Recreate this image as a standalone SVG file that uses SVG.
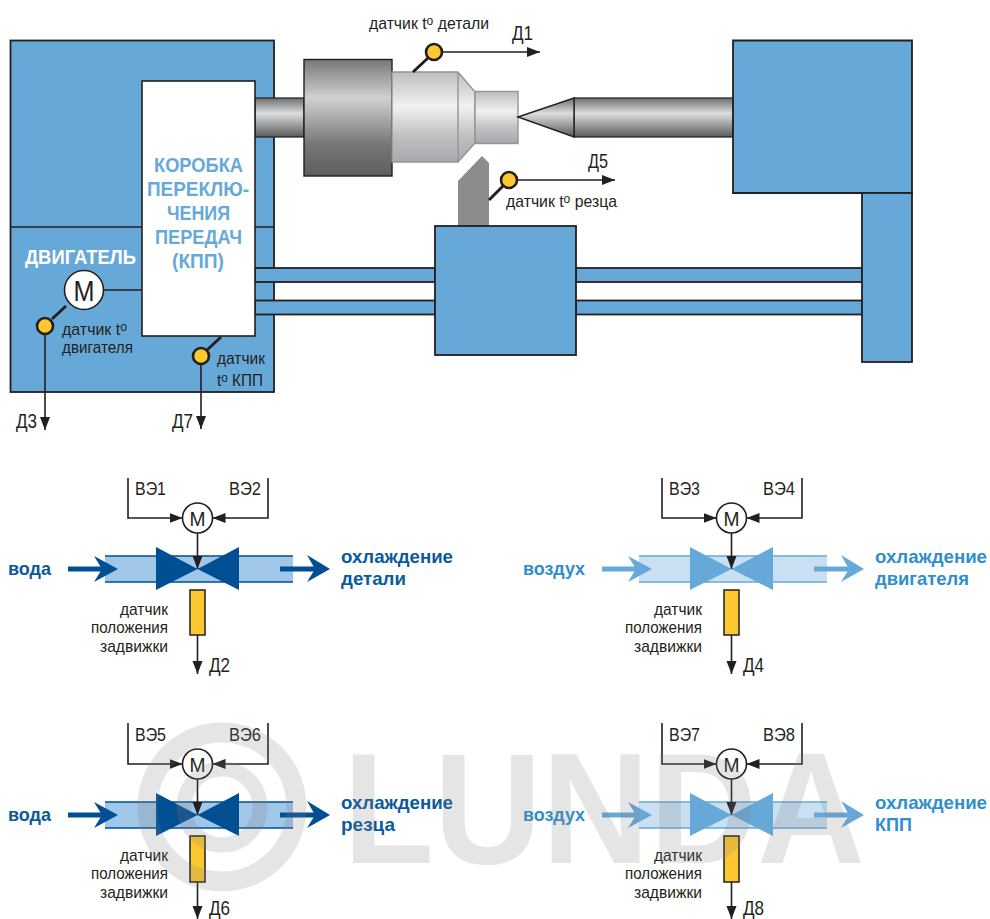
<svg xmlns="http://www.w3.org/2000/svg" width="990" height="919" viewBox="0 0 990 919">
<style>
text{font-family:"Liberation Sans",Arial,sans-serif;fill:#231f20}
.l{font-size:17px}
.s{font-size:17px}
.v{font-size:18.500px}
.d{font-size:21px}
.mm{font-size:21px}
.b{font-weight:bold;font-size:19px}
.big{font-weight:bold;font-size:21px}
.blue{fill:#66a9d9}
.body{fill:#66a9d9;stroke:#231f20;stroke-width:1.8}
.ln{fill:none;stroke:#231f20;stroke-width:1.6}
.th{fill:none;stroke:#231f20;stroke-width:3}
.sens{fill:#fdc82f;stroke:#231f20;stroke-width:2.6}
.m{fill:#fff;stroke:#231f20;stroke-width:1.6}
.pos{fill:#fdc82f;stroke:#231f20;stroke-width:1.5}
.dk{fill:#004f92}.dkp{fill:#a0c6e8}.dks{stroke:#004f92;stroke-width:1.6}
.dkt{fill:#0a5a9c}
.lt{fill:#66a9d9}.ltp{fill:#c9e0f3}.lts{stroke:#66a9d9;stroke-width:1.6}
.ltt{fill:#2f8fcb}
</style>
<defs>
<marker id="ah" markerUnits="userSpaceOnUse" markerWidth="14" markerHeight="11" refX="13" refY="5.500" orient="auto"><path d="M0,0.500L13,5.500L0,10.500z" fill="#231f20"/></marker>
<linearGradient id="gChuck" x1="0" y1="0" x2="0" y2="1"><stop offset="0" stop-color="#767779"/><stop offset=".33" stop-color="#d0d1d2"/><stop offset=".72" stop-color="#77787a"/><stop offset="1" stop-color="#5c5d5f"/></linearGradient>
<linearGradient id="gPart" x1="0" y1="0" x2="0" y2="1"><stop offset="0" stop-color="#bcbdbf"/><stop offset=".38" stop-color="#f1f1f2"/><stop offset=".7" stop-color="#c0c1c3"/><stop offset="1" stop-color="#a7a9ac"/></linearGradient>
<linearGradient id="gShaft" x1="0" y1="0" x2="0" y2="1"><stop offset="0" stop-color="#6d6e70"/><stop offset=".4" stop-color="#dcddde"/><stop offset="1" stop-color="#58595b"/></linearGradient>
</defs>

<g id="base">
<rect class="body" x="10.500" y="40.500" width="263.500" height="351.500"/>
<line class="ln" x1="10.500" y1="227" x2="274" y2="227"/>
</g>
<g id="shaft"><rect x="255" y="98" width="49" height="39" fill="url(#gShaft)" stroke="#231f20" stroke-width="1.200"/></g>
<g id="rails">
<rect class="body" x="255" y="268" width="180" height="14"/>
<rect class="body" x="255" y="300.500" width="180" height="14"/>
<rect class="body" x="576" y="268" width="286" height="14"/>
<rect class="body" x="576" y="300.500" width="286" height="14"/>
</g>
<g id="gearbox">
<rect x="142" y="81" width="113" height="255" fill="#fff" stroke="#231f20" stroke-width="1.600"/>
<text class="big blue" x="154" y="172" textLength="89" lengthAdjust="spacingAndGlyphs">КОРОБКА</text>
<text class="big blue" x="147" y="196" textLength="102" lengthAdjust="spacingAndGlyphs">ПЕРЕКЛЮ-</text>
<text class="big blue" x="167" y="220" textLength="63" lengthAdjust="spacingAndGlyphs">ЧЕНИЯ</text>
<text class="big blue" x="155" y="244" textLength="87" lengthAdjust="spacingAndGlyphs">ПЕРЕДАЧ</text>
<text class="big blue" x="172" y="268" textLength="52" lengthAdjust="spacingAndGlyphs">(КПП)</text>
</g>
<text id="engine-label" class="big" style="fill:#fff" x="25" y="264" textLength="111" lengthAdjust="spacingAndGlyphs">ДВИГАТЕЛЬ</text>
<g id="chuck"><rect x="304" y="59.500" width="88" height="116.500" fill="url(#gChuck)" stroke="#231f20" stroke-width="1.400"/></g>
<g id="workpiece" stroke="#929497" stroke-width="1.400">
<path d="M392,72H458L475,92V143L458,162H392z" fill="url(#gPart)"/>
<line x1="458" y1="72" x2="458" y2="162"/>
<rect x="475" y="91.500" width="43" height="52" fill="url(#gPart)"/>
</g>
<g id="tailstock">
<rect x="574" y="98" width="159" height="39" fill="url(#gShaft)" stroke="#231f20" stroke-width="1.200"/>
<path d="M518,117L574,98V137z" fill="url(#gShaft)" stroke="#231f20" stroke-width="1.400"/>
<path class="body" d="M733,40.500H912V193H733z"/>
<rect class="body" x="862" y="193" width="50" height="169"/>
</g>
<g id="tool"><path d="M458,226V181L482,156L489,163V226z" fill="#8a8c8e"/></g>
<g id="carriage"><rect class="body" x="435" y="226" width="141" height="129"/></g>

<g id="valve-1">
<rect class="dkp" x="105" y="556" width="188" height="26"/>
<path class="dks" d="M105,556H293M105,582H293"/>
<path class="dk" d="M156,547L197.500,569L156,590zM239,547L197.500,569L239,590z"/>
<path class="dk" d="M68,566.500H102V571.500H68zM94,556L118,569L94,582L102,569z"/><path class="dk" d="M280,566.500H316V571.500H280zM307,555L330,569L307,582L315,569z"/>
<circle class="m" cx="197.500" cy="518" r="15"/><text class="mm" x="189.500" y="525.500" textLength="16" lengthAdjust="spacingAndGlyphs">М</text>
<rect class="pos" x="190" y="590" width="15" height="45"/>
<text class="v" x="135" y="495" textLength="31" lengthAdjust="spacingAndGlyphs">ВЭ1</text><text class="v" x="229" y="495" textLength="32" lengthAdjust="spacingAndGlyphs">ВЭ2</text>
<text class="s" x="120" y="615" textLength="48" lengthAdjust="spacingAndGlyphs">датчик</text><text class="s" x="91" y="633" textLength="77" lengthAdjust="spacingAndGlyphs">положения</text><text class="s" x="100" y="652" textLength="68" lengthAdjust="spacingAndGlyphs">задвижки</text>
<text class="d" x="209" y="672" textLength="21" lengthAdjust="spacingAndGlyphs">Д2</text>
<text class="b dkt" x="8" y="575" textLength="43" lengthAdjust="spacingAndGlyphs">вода</text><text class="b dkt" x="341" y="563" textLength="112" lengthAdjust="spacingAndGlyphs">охлаждение</text><text class="b dkt" x="341" y="585" textLength="65" lengthAdjust="spacingAndGlyphs">детали</text>
</g>
<g id="valve-2">
<rect class="ltp" x="639" y="556" width="188" height="26"/>
<path class="lts" d="M639,556H827M639,582H827"/>
<path class="lt" d="M690,547L731.500,569L690,590zM773,547L731.500,569L773,590z"/>
<path class="lt" d="M602,566.500H636V571.500H602zM628,556L652,569L628,582L636,569z"/><path class="lt" d="M814,566.500H850V571.500H814zM841,555L864,569L841,582L849,569z"/>
<circle class="m" cx="731.500" cy="518" r="15"/><text class="mm" x="723.500" y="525.500" textLength="16" lengthAdjust="spacingAndGlyphs">М</text>
<rect class="pos" x="724" y="590" width="15" height="45"/>
<text class="v" x="669" y="495" textLength="31" lengthAdjust="spacingAndGlyphs">ВЭ3</text><text class="v" x="763" y="495" textLength="32" lengthAdjust="spacingAndGlyphs">ВЭ4</text>
<text class="s" x="654" y="615" textLength="48" lengthAdjust="spacingAndGlyphs">датчик</text><text class="s" x="625" y="633" textLength="77" lengthAdjust="spacingAndGlyphs">положения</text><text class="s" x="634" y="652" textLength="68" lengthAdjust="spacingAndGlyphs">задвижки</text>
<text class="d" x="743" y="672" textLength="21" lengthAdjust="spacingAndGlyphs">Д4</text>
<text class="b ltt" x="523" y="575" textLength="62" lengthAdjust="spacingAndGlyphs">воздух</text><text class="b ltt" x="875" y="563" textLength="112" lengthAdjust="spacingAndGlyphs">охлаждение</text><text class="b ltt" x="875" y="585" textLength="94" lengthAdjust="spacingAndGlyphs">двигателя</text>
</g>
<g id="valve-3">
<rect class="dkp" x="105" y="802" width="188" height="26"/>
<path class="dks" d="M105,802H293M105,828H293"/>
<path class="dk" d="M156,793L197.500,815L156,836zM239,793L197.500,815L239,836z"/>
<path class="dk" d="M68,812.500H102V817.500H68zM94,802L118,815L94,828L102,815z"/><path class="dk" d="M280,812.500H316V817.500H280zM307,801L330,815L307,828L315,815z"/>
<circle class="m" cx="197.500" cy="764" r="15"/><text class="mm" x="189.500" y="771.500" textLength="16" lengthAdjust="spacingAndGlyphs">М</text>
<rect class="pos" x="190" y="836" width="15" height="46"/>
<text class="v" x="135" y="741" textLength="31" lengthAdjust="spacingAndGlyphs">ВЭ5</text><text class="v" x="229" y="741" textLength="32" lengthAdjust="spacingAndGlyphs">ВЭ6</text>
<text class="s" x="120" y="861" textLength="48" lengthAdjust="spacingAndGlyphs">датчик</text><text class="s" x="91" y="879" textLength="77" lengthAdjust="spacingAndGlyphs">положения</text><text class="s" x="100" y="898" textLength="68" lengthAdjust="spacingAndGlyphs">задвижки</text>
<text class="d" x="209" y="915" textLength="21" lengthAdjust="spacingAndGlyphs">Д6</text>
<text class="b dkt" x="8" y="821" textLength="43" lengthAdjust="spacingAndGlyphs">вода</text><text class="b dkt" x="341" y="809" textLength="112" lengthAdjust="spacingAndGlyphs">охлаждение</text><text class="b dkt" x="341" y="831" textLength="54" lengthAdjust="spacingAndGlyphs">резца</text>
</g>
<g id="valve-4">
<rect class="ltp" x="639" y="802" width="188" height="26"/>
<path class="lts" d="M639,802H827M639,828H827"/>
<path class="lt" d="M690,793L731.500,815L690,836zM773,793L731.500,815L773,836z"/>
<path class="lt" d="M602,812.500H636V817.500H602zM628,802L652,815L628,828L636,815z"/><path class="lt" d="M814,812.500H850V817.500H814zM841,801L864,815L841,828L849,815z"/>
<circle class="m" cx="731.500" cy="764" r="15"/><text class="mm" x="723.500" y="771.500" textLength="16" lengthAdjust="spacingAndGlyphs">М</text>
<rect class="pos" x="724" y="836" width="15" height="46"/>
<text class="v" x="669" y="741" textLength="31" lengthAdjust="spacingAndGlyphs">ВЭ7</text><text class="v" x="763" y="741" textLength="32" lengthAdjust="spacingAndGlyphs">ВЭ8</text>
<text class="s" x="654" y="861" textLength="48" lengthAdjust="spacingAndGlyphs">датчик</text><text class="s" x="625" y="879" textLength="77" lengthAdjust="spacingAndGlyphs">положения</text><text class="s" x="634" y="898" textLength="68" lengthAdjust="spacingAndGlyphs">задвижки</text>
<text class="d" x="743" y="915" textLength="21" lengthAdjust="spacingAndGlyphs">Д8</text>
<text class="b ltt" x="523" y="821" textLength="62" lengthAdjust="spacingAndGlyphs">воздух</text><text class="b ltt" x="875" y="809" textLength="112" lengthAdjust="spacingAndGlyphs">охлаждение</text><text class="b ltt" x="875" y="831" textLength="37" lengthAdjust="spacingAndGlyphs">КПП</text>
</g>

<g id="connectors">
<line class="ln" x1="103" y1="290" x2="142" y2="290"/>
<line class="th" x1="413" y1="72" x2="428" y2="58"/>
<line class="ln" x1="442" y1="52" x2="540" y2="52" marker-end="url(#ah)"/>
<line class="th" x1="489" y1="200" x2="504" y2="185"/>
<line class="ln" x1="517" y1="180" x2="615" y2="180" marker-end="url(#ah)"/>
<line class="th" x1="52" y1="319" x2="66" y2="306"/>
<line class="ln" x1="45" y1="334" x2="45" y2="430" marker-end="url(#ah)"/>
<line class="th" x1="207" y1="350" x2="221" y2="337"/>
<line class="ln" x1="201" y1="364" x2="201" y2="429" marker-end="url(#ah)"/>

<path class="ln" d="M128,478V518H182.500" marker-end="url(#ah)"/><path class="ln" d="M268,478V518H212.500" marker-end="url(#ah)"/>
<line class="ln" x1="197.500" y1="533" x2="197.500" y2="569" marker-end="url(#ah)"/><line class="ln" x1="197.500" y1="635" x2="197.500" y2="674" marker-end="url(#ah)"/>
<path class="ln" d="M662,478V518H716.500" marker-end="url(#ah)"/><path class="ln" d="M802,478V518H746.500" marker-end="url(#ah)"/>
<line class="ln" x1="731.500" y1="533" x2="731.500" y2="569" marker-end="url(#ah)"/><line class="ln" x1="731.500" y1="635" x2="731.500" y2="674" marker-end="url(#ah)"/>
<path class="ln" d="M128,723V764H182.500" marker-end="url(#ah)"/><path class="ln" d="M268,723V764H212.500" marker-end="url(#ah)"/>
<line class="ln" x1="197.500" y1="779" x2="197.500" y2="815" marker-end="url(#ah)"/><line class="ln" x1="197.500" y1="882" x2="197.500" y2="919" marker-end="url(#ah)"/>
<path class="ln" d="M662,723V764H716.500" marker-end="url(#ah)"/><path class="ln" d="M802,723V764H746.500" marker-end="url(#ah)"/>
<line class="ln" x1="731.500" y1="779" x2="731.500" y2="815" marker-end="url(#ah)"/><line class="ln" x1="731.500" y1="882" x2="731.500" y2="919" marker-end="url(#ah)"/>
</g>

<g id="motor-main"><circle class="m" cx="84" cy="290" r="19.500" stroke-width="2"/><text x="73.500" y="301" font-size="29" textLength="21" lengthAdjust="spacingAndGlyphs">М</text></g>
<g id="sensor-part"><circle class="sens" cx="434" cy="52" r="8"/><text class="l" x="369" y="29" textLength="120" lengthAdjust="spacingAndGlyphs">датчик t<tspan font-size="13" dy="-4">о</tspan><tspan dy="4"> детали</tspan></text><text class="d" x="512" y="40" textLength="21" lengthAdjust="spacingAndGlyphs">Д1</text></g>
<g id="sensor-tool"><circle class="sens" cx="509" cy="180" r="8"/><text class="l" x="506" y="207" textLength="111" lengthAdjust="spacingAndGlyphs">датчик t<tspan font-size="13" dy="-4">о</tspan><tspan dy="4"> резца</tspan></text><text class="d" x="588" y="168" textLength="20" lengthAdjust="spacingAndGlyphs">Д5</text></g>
<g id="sensor-engine"><circle class="sens" cx="45" cy="326" r="8"/><text class="l" x="62" y="335" textLength="65" lengthAdjust="spacingAndGlyphs">датчик t<tspan font-size="13" dy="-4">о</tspan></text><text class="l" x="62" y="353" textLength="71" lengthAdjust="spacingAndGlyphs">двигателя</text><text class="d" x="16" y="428" textLength="21" lengthAdjust="spacingAndGlyphs">Д3</text></g>
<g id="sensor-gearbox"><circle class="sens" cx="201" cy="356" r="8"/><text class="l" x="217" y="364" textLength="48" lengthAdjust="spacingAndGlyphs">датчик</text><text class="l" x="217" y="386" textLength="46" lengthAdjust="spacingAndGlyphs">t<tspan font-size="13" dy="-4">о</tspan><tspan dy="4"> КПП</tspan></text><text class="d" x="172" y="428" textLength="21" lengthAdjust="spacingAndGlyphs">Д7</text></g>

<g id="watermark" opacity=".2">
<circle cx="222" cy="807" r="74.500" fill="none" stroke="#808080" stroke-width="20"/>
<circle cx="222" cy="807" r="38" fill="none" stroke="#808080" stroke-width="15"/>
<text x="343" y="863" textLength="522" lengthAdjust="spacingAndGlyphs" style="font-weight:bold;font-size:157px;fill:#808080">LUNDA</text>
</g>
</svg>
